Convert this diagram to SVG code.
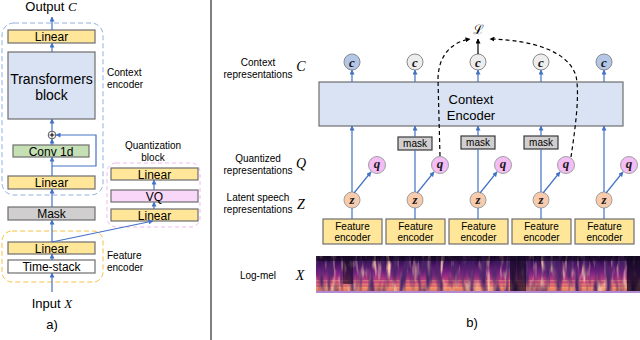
<svg xmlns="http://www.w3.org/2000/svg" width="640" height="340" viewBox="0 0 640 340">
<defs>
<marker id="ab" viewBox="0 0 10 10" refX="9" refY="5" markerWidth="5" markerHeight="5" orient="auto" markerUnits="userSpaceOnUse"><path d="M0,0 L10,5 L0,10 z" fill="#4472c4"/></marker>
<marker id="ak" viewBox="0 0 10 10" refX="9" refY="5" markerWidth="5" markerHeight="5" orient="auto" markerUnits="userSpaceOnUse"><path d="M0,0 L10,5 L0,10 z" fill="#000"/></marker>
<linearGradient id="spec" x1="0" y1="0" x2="0" y2="1">
<stop offset="0" stop-color="#14081f"/>
<stop offset="0.18" stop-color="#3a0f5a"/>
<stop offset="0.45" stop-color="#7d2285"/>
<stop offset="0.7" stop-color="#c8437a"/>
<stop offset="0.9" stop-color="#f0855c"/>
<stop offset="1" stop-color="#a0408c"/>
</linearGradient>
<filter id="dark" x="0" y="0" width="1" height="1">
<feTurbulence type="fractalNoise" baseFrequency="0.16 0.035" numOctaves="2" seed="7"/>
<feColorMatrix type="matrix" values="0 0 0 0 0.07  0 0 0 0 0.02  0 0 0 0 0.14  3 0 0 0 -1.25"/>
</filter>
<filter id="bright" x="0" y="0" width="1" height="1">
<feTurbulence type="fractalNoise" baseFrequency="0.22 0.05" numOctaves="2" seed="21"/>
<feColorMatrix type="matrix" values="0 0 0 0 0.98  0 0 0 0 0.62  0 0 0 0 0.42  0 3 0 0 -1.55"/>
</filter>
<pattern id="harm" x="0" y="0" width="6" height="3.5" patternUnits="userSpaceOnUse"><rect x="0" y="0" width="6" height="1.3" fill="#fcd08a" opacity="0.35"/></pattern>
</defs>
<style>
.t{font-family:"Liberation Sans",Arial,sans-serif;fill:#000}
.m{font-family:"Liberation Serif","DejaVu Serif",serif;font-style:italic;fill:#000}
.cl{font-family:"Liberation Serif","DejaVu Serif",serif;font-style:italic;font-weight:bold;font-size:13px;fill:#1a1a1a}
.box{stroke:#6e6e6e;stroke-width:1.2}
.lin{fill:#ffe699}
.fe{fill:#ffe699;stroke:#6e6e6e;stroke-width:1.2}
.ar{stroke:#4472c4;stroke-width:1.2;fill:none;marker-end:url(#ab)}
.ln{stroke:#4472c4;stroke-width:1.2;fill:none}
.dsh{stroke:#000;stroke-width:1.2;fill:none;stroke-dasharray:4 3}
.mask{fill:#d0cece;stroke:#3a3a3a;stroke-width:1.2}
.z{fill:#f8cbad;stroke:#a0a0a0;stroke-width:1}
.q{fill:#f5bdf5;stroke:#a0a0a0;stroke-width:1}
.cb{fill:#b4c7e7;stroke:#8a8a8a;stroke-width:1}
.cg{fill:#ededed;stroke:#8a8a8a;stroke-width:1}
</style>

<!-- divider -->
<line x1="211" y1="0" x2="211" y2="340" stroke="#555" stroke-width="1.5"/>

<!-- Left panel -->
<g id="context-encoder-group">
<rect x="2" y="23" width="101" height="172" rx="12" fill="none" stroke="#8fb0e0" stroke-width="1" stroke-dasharray="5 3"/>
<text class="t" x="107" y="76" font-size="10">Context</text>
<text class="t" x="107" y="88" font-size="10">encoder</text>
</g>
<g id="feature-encoder-group">
<rect x="2" y="231" width="101" height="51" rx="10" fill="none" stroke="#f5c242" stroke-width="1" stroke-dasharray="5 3"/>
<text class="t" x="107" y="259" font-size="10">Feature</text>
<text class="t" x="107" y="271" font-size="10">encoder</text>
</g>
<g id="quantization-group">
<rect x="107" y="163" width="93" height="64" rx="9" fill="none" stroke="#f0b8ef" stroke-width="1" stroke-dasharray="4 3"/>
<text class="t" x="153" y="149" font-size="10" text-anchor="middle">Quantization</text>
<text class="t" x="153" y="161" font-size="10" text-anchor="middle">block</text>
</g>
<g id="output-label"><text x="51" y="11" font-size="13" text-anchor="middle"><tspan class="t">Output </tspan><tspan class="m">C</tspan></text></g>
<g id="linear-top"><rect class="box lin" x="8" y="30" width="87" height="13"/><text class="t" x="51.5" y="41" font-size="12" text-anchor="middle">Linear</text></g>
<g id="transformers"><rect class="box" fill="#dae3f3" x="8" y="52" width="87" height="67"/><text class="t" x="51.5" y="84" font-size="14" text-anchor="middle">Transformers</text><text class="t" x="51.5" y="100" font-size="14" text-anchor="middle">block</text></g>
<g id="plus"><circle cx="52" cy="135" r="3.8" fill="#fff" stroke="#555" stroke-width="1"/><path d="M49.6,135 H54.4 M52,132.6 V137.4" stroke="#000" stroke-width="1"/></g>
<g id="conv1d"><rect class="box" fill="#c5e0b4" x="13" y="145" width="76" height="12"/><text class="t" x="51" y="155.5" font-size="12" text-anchor="middle">Conv 1d</text></g>
<g id="linear-ctx"><rect class="box lin" x="8" y="176" width="87" height="13"/><text class="t" x="51.5" y="187" font-size="12" text-anchor="middle">Linear</text></g>
<g id="mask-left"><rect class="box" fill="#d0cece" x="8" y="207" width="87" height="13"/><text class="t" x="51.5" y="218" font-size="12" text-anchor="middle">Mask</text></g>
<g id="linear-fe"><rect class="box lin" x="8" y="242" width="87" height="12"/><text class="t" x="51.5" y="252.5" font-size="12" text-anchor="middle">Linear</text></g>
<g id="time-stack"><rect class="box" fill="#fff" x="8" y="260" width="87" height="13"/><text class="t" x="51.5" y="271" font-size="12" text-anchor="middle">Time-stack</text></g>
<g id="linear-q2"><rect class="box lin" x="111" y="168" width="87" height="12"/><text class="t" x="154.5" y="178.5" font-size="12" text-anchor="middle">Linear</text></g>
<g id="vq"><rect class="box" fill="#f9d7f9" x="111" y="190" width="87" height="12"/><text class="t" x="154.5" y="200.5" font-size="12" text-anchor="middle">VQ</text></g>
<g id="linear-q1"><rect class="box lin" x="111" y="209" width="87" height="12"/><text class="t" x="154.5" y="219.5" font-size="12" text-anchor="middle">Linear</text></g>
<g id="input-label"><text x="52" y="308" font-size="13" text-anchor="middle"><tspan class="t">Input </tspan><tspan class="m">X</tspan></text></g>
<g id="label-a"><text class="t" x="52" y="329" font-size="13" text-anchor="middle">a)</text></g>

<g id="connectors-left">
<line class="ar" x1="52" y1="30" x2="52" y2="17"/>
<line class="ar" x1="52" y1="52" x2="52" y2="43"/>
<line class="ar" x1="52" y1="131" x2="52" y2="119"/>
<line class="ar" x1="52" y1="145" x2="52" y2="139"/>
<line class="ar" x1="52" y1="176" x2="52" y2="157"/>
<polyline class="ar" points="52,166 96,166 96,135 56,135"/>
<line class="ar" x1="52" y1="207" x2="52" y2="189"/>
<line class="ar" x1="52" y1="242" x2="52" y2="220"/>
<line class="ar" x1="52" y1="260" x2="52" y2="254"/>
<line class="ar" x1="52" y1="292" x2="52" y2="273"/>
<line class="ar" x1="52" y1="242" x2="153" y2="221"/>
<line class="ar" x1="154" y1="209" x2="154" y2="202"/>
<line class="ar" x1="154" y1="190" x2="154" y2="180"/>
</g>

<!-- Right panel labels -->
<g id="labels-right">
<text class="t" x="258" y="66" font-size="10" text-anchor="middle">Context</text>
<text class="t" x="258" y="78" font-size="10" text-anchor="middle">representations</text>
<text class="m" x="301" y="71" font-size="14" text-anchor="middle">C</text>
<text class="t" x="258" y="162" font-size="10" text-anchor="middle">Quantized</text>
<text class="t" x="258" y="174" font-size="10" text-anchor="middle">representations</text>
<text class="m" x="301" y="168" font-size="14" text-anchor="middle">Q</text>
<text class="t" x="258" y="201" font-size="10" text-anchor="middle">Latent speech</text>
<text class="t" x="258" y="213" font-size="10" text-anchor="middle">representations</text>
<text class="m" x="301" y="209" font-size="14" text-anchor="middle">Z</text>
<text class="t" x="258" y="279" font-size="10" text-anchor="middle">Log-mel</text>
<text class="m" x="300" y="280" font-size="14" text-anchor="middle">X</text>
<text class="t" x="472" y="327" font-size="13" text-anchor="middle">b)</text>
</g>

<g id="context-encoder">
<rect class="box" fill="#dae3f3" x="319" y="82" width="304" height="44"/>
<text class="t" x="471" y="104" font-size="13" text-anchor="middle">Context</text>
<text class="t" x="471" y="120" font-size="13" text-anchor="middle">Encoder</text>
</g>

<g id="spectrogram">
<rect x="316" y="256" width="324" height="37" fill="url(#spec)"/>
<rect x="316" y="278" width="324" height="13" fill="url(#harm)"/>
<rect x="316" y="256" width="324" height="37" fill="#000" filter="url(#bright)"/>
<rect x="316" y="256" width="324" height="37" fill="#000" filter="url(#dark)"/>
<rect x="316" y="256" width="324" height="5" fill="#120820" opacity="0.55"/>
<rect x="343" y="256" width="10" height="28" fill="#140822" opacity="0.6"/>
<rect x="510" y="256" width="16" height="37" fill="#140822" opacity="0.7"/>
<rect x="627" y="256" width="13" height="37" fill="#120820" opacity="0.8"/>
<rect x="316" y="291" width="324" height="2" fill="#b38ad0"/>
</g>

<!-- columns -->
<g id="col1">
<rect class="fe" x="323" y="219" width="59" height="25"/><text class="t" x="352.5" y="230" font-size="10" text-anchor="middle">Feature</text><text class="t" x="352.5" y="241" font-size="10" text-anchor="middle">encoder</text>
<circle class="z" cx="352" cy="200" r="8"/><text class="cl" x="352" y="204" text-anchor="middle">z</text>
<circle class="q" cx="377" cy="165" r="8.5"/><text class="cl" x="377" y="168" text-anchor="middle">q</text>
<circle class="cb" cx="352" cy="62" r="8"/><text class="cl" x="352" y="66.5" text-anchor="middle">c</text>
</g>
<g id="col2">
<rect class="fe" x="386" y="219" width="59" height="25"/><text class="t" x="415.5" y="230" font-size="10" text-anchor="middle">Feature</text><text class="t" x="415.5" y="241" font-size="10" text-anchor="middle">encoder</text>
<circle class="z" cx="415" cy="200" r="8"/><text class="cl" x="415" y="204" text-anchor="middle">z</text>
<circle class="q" cx="440" cy="165" r="8.5"/><text class="cl" x="440" y="168" text-anchor="middle">q</text>
<rect class="mask" x="398" y="137" width="34" height="13"/><text class="t" x="415" y="147" font-size="10" text-anchor="middle">mask</text>
<circle class="cg" cx="415" cy="62" r="8"/><text class="cl" x="415" y="66.5" text-anchor="middle">c</text>
</g>
<g id="col3">
<rect class="fe" x="449" y="219" width="59" height="25"/><text class="t" x="478.5" y="230" font-size="10" text-anchor="middle">Feature</text><text class="t" x="478.5" y="241" font-size="10" text-anchor="middle">encoder</text>
<circle class="z" cx="478" cy="200" r="8"/><text class="cl" x="478" y="204" text-anchor="middle">z</text>
<circle class="q" cx="503" cy="165" r="8.5"/><text class="cl" x="503" y="168" text-anchor="middle">q</text>
<rect class="mask" x="461" y="136" width="34" height="13"/><text class="t" x="478" y="146" font-size="10" text-anchor="middle">mask</text>
<circle class="cg" cx="478" cy="62" r="8"/><text class="cl" x="478" y="66.5" text-anchor="middle">c</text>
</g>
<g id="col4">
<rect class="fe" x="512" y="219" width="59" height="25"/><text class="t" x="541.5" y="230" font-size="10" text-anchor="middle">Feature</text><text class="t" x="541.5" y="241" font-size="10" text-anchor="middle">encoder</text>
<circle class="z" cx="541" cy="200" r="8"/><text class="cl" x="541" y="204" text-anchor="middle">z</text>
<circle class="q" cx="566" cy="165" r="8.5"/><text class="cl" x="566" y="168" text-anchor="middle">q</text>
<rect class="mask" x="524" y="136" width="34" height="13"/><text class="t" x="541" y="146" font-size="10" text-anchor="middle">mask</text>
<circle class="cg" cx="541" cy="62" r="8"/><text class="cl" x="541" y="66.5" text-anchor="middle">c</text>
</g>
<g id="col5">
<rect class="fe" x="575" y="219" width="59" height="25"/><text class="t" x="604.5" y="230" font-size="10" text-anchor="middle">Feature</text><text class="t" x="604.5" y="241" font-size="10" text-anchor="middle">encoder</text>
<circle class="z" cx="604" cy="200" r="8"/><text class="cl" x="604" y="204" text-anchor="middle">z</text>
<circle class="q" cx="629" cy="165" r="8.5"/><text class="cl" x="629" y="168" text-anchor="middle">q</text>
<circle class="cb" cx="604" cy="62" r="8"/><text class="cl" x="604" y="66.5" text-anchor="middle">c</text>
</g>
<g id="loss"><text x="478" y="34" font-size="13" text-anchor="middle" font-family="DejaVu Serif, serif">ℒ</text></g>

<g id="connectors-right">
<line class="ln" x1="352" y1="219" x2="352" y2="208"/>
<line class="ln" x1="415" y1="219" x2="415" y2="208"/>
<line class="ln" x1="478" y1="219" x2="478" y2="208"/>
<line class="ln" x1="541" y1="219" x2="541" y2="208"/>
<line class="ln" x1="604" y1="219" x2="604" y2="208"/>
<line class="ar" x1="352" y1="192" x2="352" y2="126"/>
<line class="ar" x1="604" y1="192" x2="604" y2="126"/>
<line class="ln" x1="415" y1="192" x2="415" y2="150"/>
<line class="ln" x1="478" y1="192" x2="478" y2="149"/>
<line class="ln" x1="541" y1="192" x2="541" y2="149"/>
<line class="ar" x1="415" y1="137" x2="415" y2="126"/>
<line class="ar" x1="478" y1="136" x2="478" y2="126"/>
<line class="ar" x1="541" y1="136" x2="541" y2="126"/>
<line class="ar" x1="354" y1="193" x2="371" y2="172"/>
<line class="ar" x1="417" y1="193" x2="434" y2="172"/>
<line class="ar" x1="480" y1="193" x2="497" y2="172"/>
<line class="ar" x1="543" y1="193" x2="560" y2="172"/>
<line class="ar" x1="606" y1="193" x2="623" y2="172"/>
<line class="ar" x1="352" y1="82" x2="352" y2="70"/>
<line class="ar" x1="415" y1="82" x2="415" y2="70"/>
<line class="ar" x1="478" y1="82" x2="478" y2="70"/>
<line class="ar" x1="541" y1="82" x2="541" y2="70"/>
<line class="ar" x1="604" y1="82" x2="604" y2="70"/>
<line x1="478" y1="54" x2="478" y2="39" stroke="#000" stroke-width="1.2" marker-end="url(#ak)"/>
<path class="dsh" d="M440,156 L438,80 C438,55 452,42 470,39" marker-end="url(#ak)"/>
<path class="dsh" d="M571,157 C575,130 580,95 576,76 C568,50 530,40 490,39" marker-end="url(#ak)"/>
</g>
</svg>
